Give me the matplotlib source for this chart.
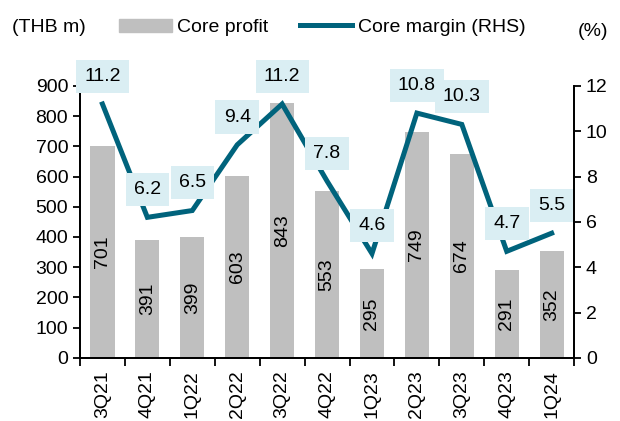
import numpy as np
import matplotlib
matplotlib.use("Agg")
import matplotlib.pyplot as plt
from matplotlib.lines import Line2D
from matplotlib.patches import Patch

plt.rcParams['font.family'] = ['Liberation Sans', 'DejaVu Sans']

# data
quarters = ['3Q21', '4Q21', '1Q22', '2Q22', '3Q22', '4Q22',
            '1Q23', '2Q23', '3Q23', '4Q23', '1Q24']
core_profit = [701, 391, 399, 603, 843, 553, 295, 749, 674, 291, 352]
core_margin = [11.2, 6.2, 6.5, 9.4, 11.2, 7.8, 4.6, 10.8, 10.3, 4.7, 5.5]

bar_color = '#BFBFBF'
line_color = '#00637C'
box_color = '#DAEEF3'
fs = 14

fig = plt.figure(figsize=(6.2, 4.21), dpi=100)
ax = fig.add_axes([0.129, 0.150, 0.797, 0.646])
ax2 = ax.twinx()

x = np.arange(len(quarters))
bars = ax.bar(x, core_profit, width=0.54, color=bar_color, zorder=1)
ax.bar_label(bars, labels=[str(v) for v in core_profit], label_type='center',
             rotation=90, fontsize=fs)

# margin line + boxed labels on the right axis
ax2.plot(x, core_margin, color=line_color, lw=3.6, solid_joinstyle='miter', zorder=3)
for xi, m in zip(x, core_margin):
    ax2.annotate(f'{m:.1f}', (xi, m), xytext=(0, 20), textcoords='offset points',
                 ha='center', va='center', fontsize=fs, zorder=4,
                 bbox=dict(boxstyle='square,pad=0.42', fc=box_color, ec='none'))

ax.set_xlim(-0.5, len(quarters) - 0.5)
ax.set_ylim(0, 900)
ax2.set_ylim(0, 12)
ax.set_yticks(range(0, 901, 100))
ax2.set_yticks(range(0, 13, 2))

ax.set_xticks(x)
ax.set_xticklabels(quarters, rotation=90, fontsize=fs)
ax.set_xticks(np.arange(-0.5, len(quarters), 1), minor=True)
ax.tick_params(axis='x', which='major', length=0, pad=9)
ax.tick_params(axis='x', which='minor', length=6, width=1.3, direction='out')
ax.tick_params(axis='y', length=5, width=1.3, labelsize=fs, direction='out')
ax2.tick_params(axis='y', length=5, width=1.3, labelsize=fs, direction='out')

for a in (ax, ax2):
    a.spines['top'].set_visible(False)
    for s in ('left', 'right', 'bottom'):
        a.spines[s].set_linewidth(1.3)
ax2.patch.set_visible(False)

fig.text(0.02, 0.935, '(THB m)', fontsize=fs, va='center')
fig.text(0.932, 0.925, '(%)', fontsize=fs, va='center')

handles = [Patch(color=bar_color, label='Core profit'),
           Line2D([0], [0], color=line_color, lw=3.6, label='Core margin (RHS)')]
fig.legend(handles=handles, loc='center', bbox_to_anchor=(0.52, 0.935), ncol=2,
           frameon=False, fontsize=fs, handlelength=2.7, handletextpad=0.3,
           columnspacing=1.6, borderaxespad=0)

fig.savefig('out.png', dpi=100)
